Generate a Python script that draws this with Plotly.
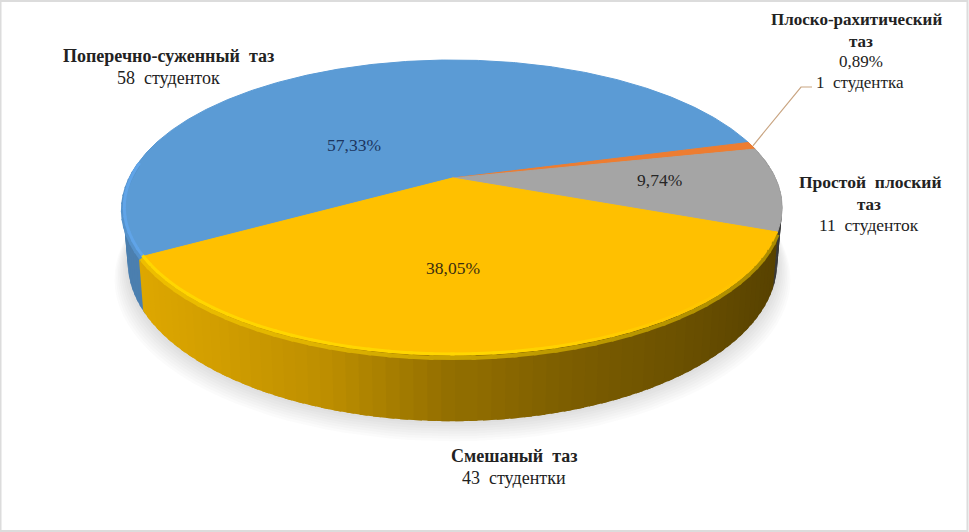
import numpy as np
import plotly.graph_objects as go

# ---- data ----
categories = ["Поперечно-суженный таз", "Плоско-рахитический таз", "Простой плоский таз", "Смешаный таз"]
percents = [57.33, 0.89, 9.74, 38.05]
percent_labels = ["57,33%", "0,89%", "9,74%", "38,05%"]
students = ["58\u00a0\u00a0студенток", "1\u00a0\u00a0студентка", "11\u00a0\u00a0студенток", "43\u00a0\u00a0студентки"]
colors = [(91, 155, 213), (237, 125, 49), (165, 165, 165), (255, 192, 0)]

# ---- 3D view geometry ----
CX, CY = 452.5, 178.0
RX, AY, P = 323.0, 141.6, 0.2
H, INSET = 53.0, 0.985
START = 210.0


def project(theta_deg, radius=1.0, drop=0.0, xs=1.0):
    t = np.radians(theta_deg)
    X, Y = radius * np.cos(t), radius * np.sin(t)
    w = 1 + P * Y
    return CX + RX * X * xs / w, CY + (-AY * Y + drop) / w


def rgb(c, f=1.0):
    return "rgb(%d,%d,%d)" % tuple(min(255, int(round(v * f))) for v in c)


shares = np.array(percents) / sum(percents) * 360.0
ends = START - np.cumsum(shares)
starts = ends + shares


def owner(theta):
    th = (theta - ends[-1]) % 360 + ends[-1]
    for i in range(len(shares)):
        if ends[i] <= th <= starts[i]:
            return i
    return len(shares) - 1


fig = go.Figure()


def poly(x, y, fill, line=None, width=1):
    fig.add_trace(go.Scatter(x=x, y=y, mode="lines", fill="toself", fillcolor=fill,
                             line=dict(color=line or fill, width=width), hoverinfo="skip", showlegend=False))


# soft shadow beneath the pie
th_all = np.arange(0, 360.5, 3)
for k in range(1, 9):
    x, y = project(th_all, 1.0, H + k * 2.0, xs=INSET + 0.005 * k)
    poly(x, y, "rgba(90,90,90,0.022)", line="rgba(0,0,0,0)", width=0)

# side wall, far to near
wall_x = [123, 220, 330, 450, 560, 680, 781]
wall_yellow = [0.88, 0.82, 0.74, 0.58, 0.49, 0.42, 0.34]
wall_other = [0.82, 0.82, 0.8, 0.7, 0.6, 0.5, 0.34]
step = 2.0


def wall_factor(mx, i):
    return float(np.interp(mx, wall_x, wall_yellow if i == 3 else wall_other))


thetas = np.arange(-195, 15, step)
order = sorted(thetas, key=lambda a: -np.sin(np.radians(a)))
for a in order:
    mid = a + step / 2
    i = owner(mid)
    # every quad overlaps its neighbour, which hides the seams
    x0, y0 = project(np.array([a - 0.6, a + step + 0.6]))
    x1, y1 = project(np.array([a + step + 0.6, a - 0.6]), drop=H, xs=INSET)
    poly(list(x0) + list(x1), list(y0) + list(y1), rgb(colors[i], wall_factor(float(np.mean(x0)), i)), width=0)

# top face
for i in range(len(shares)):
    th = np.arange(starts[i], ends[i], -0.5).tolist() + [ends[i]]
    x, y = project(np.array(th))
    poly([CX] + list(x) + [CX], [CY] + list(y) + [CY], rgb(colors[i]))

# soft bevel on the near rim: a band that blends top face into wall
bevel_step = 3.0
for a in np.arange(ends[3], 212, bevel_step):
    i = owner(a + bevel_step / 2)
    if i not in (0, 3) or (i == 0 and a < 172):
        continue
    ang = np.array([a - 0.3, a + bevel_step + 0.3])
    x, y = project(ang, 1.0, drop=2.5)
    mx = float(np.mean(x))
    fade = float(np.interp(mx, [123, 500, 770], [1.0, 1.0, 0.0]))
    wf = wall_factor(mx, i)
    base = colors[i]
    bright = (255, 214, 0) if i == 3 else (96, 164, 232)
    under = tuple((v * wf + b) / 2 for v, b in zip(base, bright))
    fig.add_trace(go.Scatter(x=x, y=y, mode="lines", line=dict(color=rgb(under), width=4),
                             hoverinfo="skip", showlegend=False))
    x, y = project(ang, 0.996)
    col = tuple(b + (h - b) * fade for b, h in zip(base, bright))
    fig.add_trace(go.Scatter(x=x, y=y, mode="lines", line=dict(color=rgb(col), width=3),
                             hoverinfo="skip", showlegend=False))

# leader line of the thin slice
lx, ly = project(np.array([(starts[1] + ends[1]) / 2]))
fig.add_trace(go.Scatter(x=[lx[0] + 1, 801, 812], y=[ly[0], 87, 87], mode="lines",
                         line=dict(color="#c9a582", width=1.2), hoverinfo="skip", showlegend=False))

SERIF = "Liberation Serif"
INK = "#222222"


def label(x, y, text, bold=False, color=INK, size=18):
    fig.add_annotation(x=x, y=y, xref="x", yref="y", text=("<b>%s</b>" % text) if bold else text,
                       showarrow=False, xanchor="center", yanchor="middle",
                       font=dict(family=SERIF, size=size, color=color))


label(168, 56, "Поперечно-суженный\u00a0\u00a0таз", True)
label(168, 78, students[0])
label(856, 19, "Плоско-рахитический", True, size=17)
label(861, 41, "таз", True, size=17)
label(861, 61, percent_labels[1], size=17)
label(860, 82, students[1], size=17)
label(870, 182, "Простой\u00a0\u00a0плоский", True, size=17.5)
label(869, 204, "таз", True, size=17)
label(869, 225, students[2], size=17.5)
label(514, 456, "Смешаный\u00a0\u00a0таз", True)
label(514, 478, students[3])
label(354, 145, percent_labels[0], color="#1c3560", size=17.5)
label(453, 268, percent_labels[3], color="#3a2e10", size=17.5)
label(659, 180, percent_labels[2], color="#262626", size=17.5)

fig.update_layout(
    width=969, height=532, margin=dict(l=0, r=0, t=0, b=0),
    paper_bgcolor="white", plot_bgcolor="white", showlegend=False,
    xaxis=dict(range=[0, 969], visible=False, fixedrange=True),
    yaxis=dict(range=[532, 0], visible=False, fixedrange=True),
    shapes=[dict(type="rect", xref="x", yref="y", x0=0.5, y0=1, x1=967.5, y1=531,
                 line=dict(color="#dcdcdc", width=2), layer="above")],
)
fig.write_html("out.html", config=dict(displayModeBar=False),
               post_script="document.body.style.margin='0';document.body.style.overflow='hidden';")
